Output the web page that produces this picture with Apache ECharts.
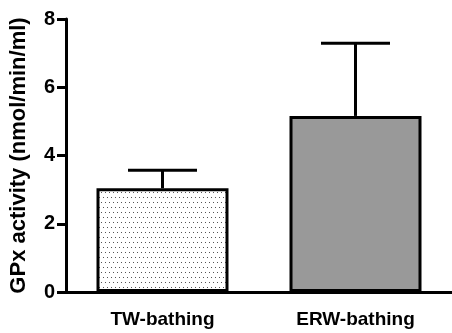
<!DOCTYPE html>
<html>
<head>
<meta charset="utf-8">
<script src="https://cdn.jsdelivr.net/npm/echarts@6/dist/echarts.min.js"></script>
<style>
  html, body { margin: 0; padding: 0; background: #fff; }
  #chart { width: 452px; height: 333px; }
</style>
</head>
<body>
<div id="chart"></div>
<script>
// Groups and measured GPx activity (mean and upper error bound)
const categories = ['TW-bathing', 'ERW-bathing'];
const means = [3.04, 5.16];
const upperErrors = [3.57, 7.29];
const yTicks = [0, 2, 4, 6, 8];

// Stippled fill for the first bar
function dotPattern() {
  const c = document.createElement('canvas');
  c.width = 8; c.height = 10;
  const g = c.getContext('2d');
  g.fillStyle = '#fff';
  g.fillRect(0, 0, 8, 10);
  g.fillStyle = '#555';
  g.fillRect(1, 2, 1, 1);
  g.fillRect(5, 2, 1, 1);
  g.fillRect(3, 7, 1, 1);
  g.fillRect(7, 7, 1, 1);
  return c;
}

const fills = [
  { image: dotPattern(), repeat: 'repeat' },
  '#999999'
];

const font = '"Liberation Sans", Arial, sans-serif';

const chart = echarts.init(document.getElementById('chart'));
chart.setOption({
  animation: false,
  grid: { left: 64, right: -11, top: 19, bottom: 41 },
  xAxis: {
    type: 'category',
    data: categories,
    axisLine: { lineStyle: { color: '#000', width: 3 } },
    axisTick: { alignWithLabel: true, length: 8, lineStyle: { color: '#000', width: 3 } },
    axisLabel: { color: '#000', fontFamily: font, fontWeight: 'bold', fontSize: 19, margin: 18 }
  },
  yAxis: {
    type: 'value',
    min: yTicks[0],
    max: yTicks[yTicks.length - 1],
    interval: 2,
    name: 'GPx activity (nmol/min/ml)',
    nameLocation: 'middle',
    nameGap: 36,
    nameTextStyle: { color: '#000', fontFamily: font, fontWeight: 'bold', fontSize: 22 },
    splitLine: { show: false },
    axisLine: { show: true, lineStyle: { color: '#000', width: 3 } },
    axisTick: { show: true, length: 9, lineStyle: { color: '#000', width: 3 } },
    axisLabel: { color: '#000', fontFamily: font, fontWeight: 'bold', fontSize: 20, margin: 11 }
  },
  series: [
    {
      type: 'bar',
      barWidth: 132,
      data: means.map((v, i) => ({
        value: v,
        itemStyle: { color: fills[i], borderColor: '#000', borderWidth: 3 }
      })),
      z: 3
    },
    {
      type: 'custom',
      z: 2,
      data: means.map((m, i) => [i, m, upperErrors[i]]),
      renderItem: function (params, api) {
        const base = api.coord([api.value(0), api.value(1)]);
        const top = api.coord([api.value(0), api.value(2)]);
        const half = 34.5;
        const style = { stroke: '#000', lineWidth: 3 };
        return {
          type: 'group',
          children: [
            { type: 'line', shape: { x1: base[0], y1: base[1], x2: top[0], y2: top[1] }, style: style },
            { type: 'line', shape: { x1: top[0] - half, y1: top[1], x2: top[0] + half, y2: top[1] }, style: style }
          ]
        };
      }
    }
  ]
});
</script>
</body>
</html>
